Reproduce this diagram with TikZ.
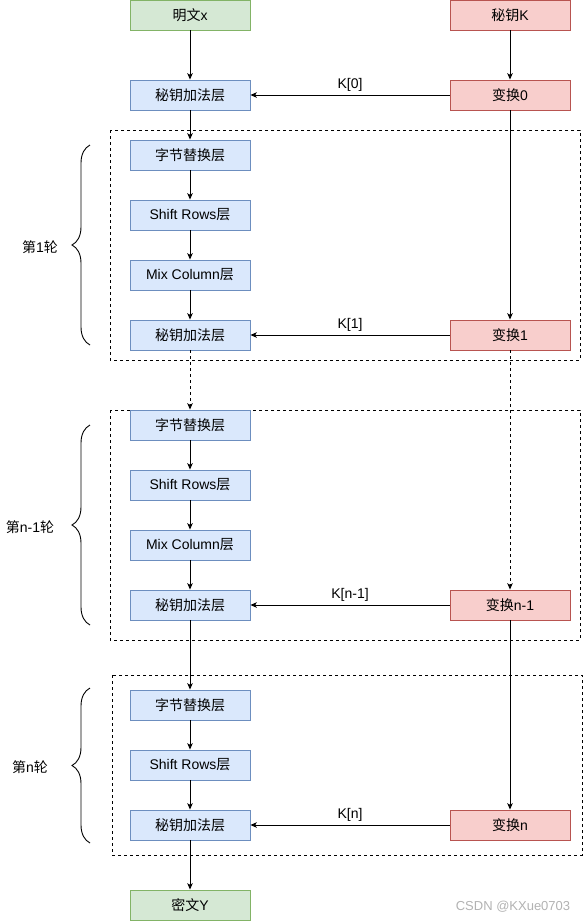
\documentclass[tikz,border=0pt]{standalone}
\usepackage{fontspec}
\setmainfont{Liberation Sans}
\newfontfamily\cjk{Noto Sans CJK SC}
\usepackage{xcolor}
\usetikzlibrary{arrows.meta, calc, decorations.pathreplacing, positioning}
\definecolor{greenfill}{HTML}{D5E8D4}
\definecolor{greenline}{HTML}{82B366}
\definecolor{bluefill}{HTML}{DAE8FC}
\definecolor{blueline}{HTML}{6C8EBF}
\definecolor{redfill}{HTML}{F8CECC}
\definecolor{redline}{HTML}{B85450}
\tikzset{> = { Stealth[length = 2.2mm, width = 1.9mm, inset = 0.5mm] }}
\tikzset{
	box/.style = {rectangle, minimum width = 120pt, minimum height = 30pt, inner sep = 0pt, line width = 0.9pt, font = \fontsize{14}{16}\selectfont},
	layer/.style = {box, draw = blueline, fill = bluefill},
	keybox/.style = {box, draw = redline, fill = redfill},
	io/.style = {box, draw = greenline, fill = greenfill},
	round/.style = {draw, dash pattern = on 3pt off 3pt, line width = 0.9pt},
	curly/.style = {decorate, decoration = { brace, amplitude = 18pt }, line width = 0.9pt},
	tag/.style = {font = \fontsize{14}{16}\selectfont},
}

\begin{document}
\begin{tikzpicture}[x = 1pt, y = -1pt, line width = 0.9pt]
		\useasboundingbox (0, 0) rectangle (584, 922);

		\node [io] (plain) at (190, 15) {{\cjk 明文}x};
		\node [keybox] (key) at (510, 15) {{\cjk 秘钥}K};
		\node [layer] (add0) at (190, 95) {\cjk 秘钥加法层};
		\node [keybox] (t0) at (510, 95) {{\cjk 变换}0};

		% round 1
		\draw [round] (110, 130) rectangle (580, 360);
		\node [layer] (sub1) at (190, 155) {\cjk 字节替换层};
		\node [layer] (shift1) at (190, 215) {Shift Rows{\cjk 层}};
		\node [layer] (mix1) at (190, 275) {Mix Column{\cjk 层}};
		\node [layer] (add1) at (190, 335) {\cjk 秘钥加法层};
		\node [keybox] (t1) at (510, 335) {{\cjk 变换}1};
		\draw [curly] (90, 345) -- (90, 145);
		\node [tag] (r1) at (40, 247) {{\cjk 第}1{\cjk 轮}};

		% round n-1
		\draw [round] (110, 410) rectangle (580, 640);
		\node [layer] (sub2) at (190, 425) {\cjk 字节替换层};
		\node [layer] (shift2) at (190, 485) {Shift Rows{\cjk 层}};
		\node [layer] (mix2) at (190, 545) {Mix Column{\cjk 层}};
		\node [layer] (add2) at (190, 605) {\cjk 秘钥加法层};
		\node [keybox] (t2) at (510, 605) {{\cjk 变换}n-1};
		\draw [curly] (90, 625) -- (90, 425);
		\node [tag] (r2) at (30, 527) {{\cjk 第}n-1{\cjk 轮}};

		% round n
		\draw [round] (112, 675) rectangle (582, 855);
		\node [layer] (sub3) at (190, 705) {\cjk 字节替换层};
		\node [layer] (shift3) at (190, 765) {Shift Rows{\cjk 层}};
		\node [layer] (add3) at (190, 825) {\cjk 秘钥加法层};
		\node [keybox] (t3) at (510, 825) {{\cjk 变换}n};
		\draw [curly] (90, 843) -- (90, 688);
		\node [tag] (r3) at (30, 767) {{\cjk 第}n{\cjk 轮}};

		\node [io] (cipher) at (190, 905) {{\cjk 密文}Y};
		\node [font = \fontsize{13}{15}\selectfont, text = black!30] (mark) at (513, 907) {CSDN @KXue0703};

		\foreach \a/\b in {plain/add0, add0/sub1, sub1/shift1, shift1/mix1, mix1/add1, sub2/shift2, shift2/mix2, mix2/add2, add2/sub3, sub3/shift3, shift3/add3, add3/cipher, key/t0, t0/t1, t2/t3}
			\draw [->] (\a) -- (\b);
		\draw [->, dash pattern = on 3pt off 3pt] (add1) -- (sub2);
		\draw [->, dash pattern = on 3pt off 3pt] (t1) -- (t2);

		\foreach \t/\a/\k in {t0/add0/{K[0]}, t1/add1/{K[1]}, t2/add2/{K[n-1]}, t3/add3/{K[n]}}
			\draw [->] (\t) -- node[tag, above]{\k} (\a);
	\end{tikzpicture}
\end{document}
